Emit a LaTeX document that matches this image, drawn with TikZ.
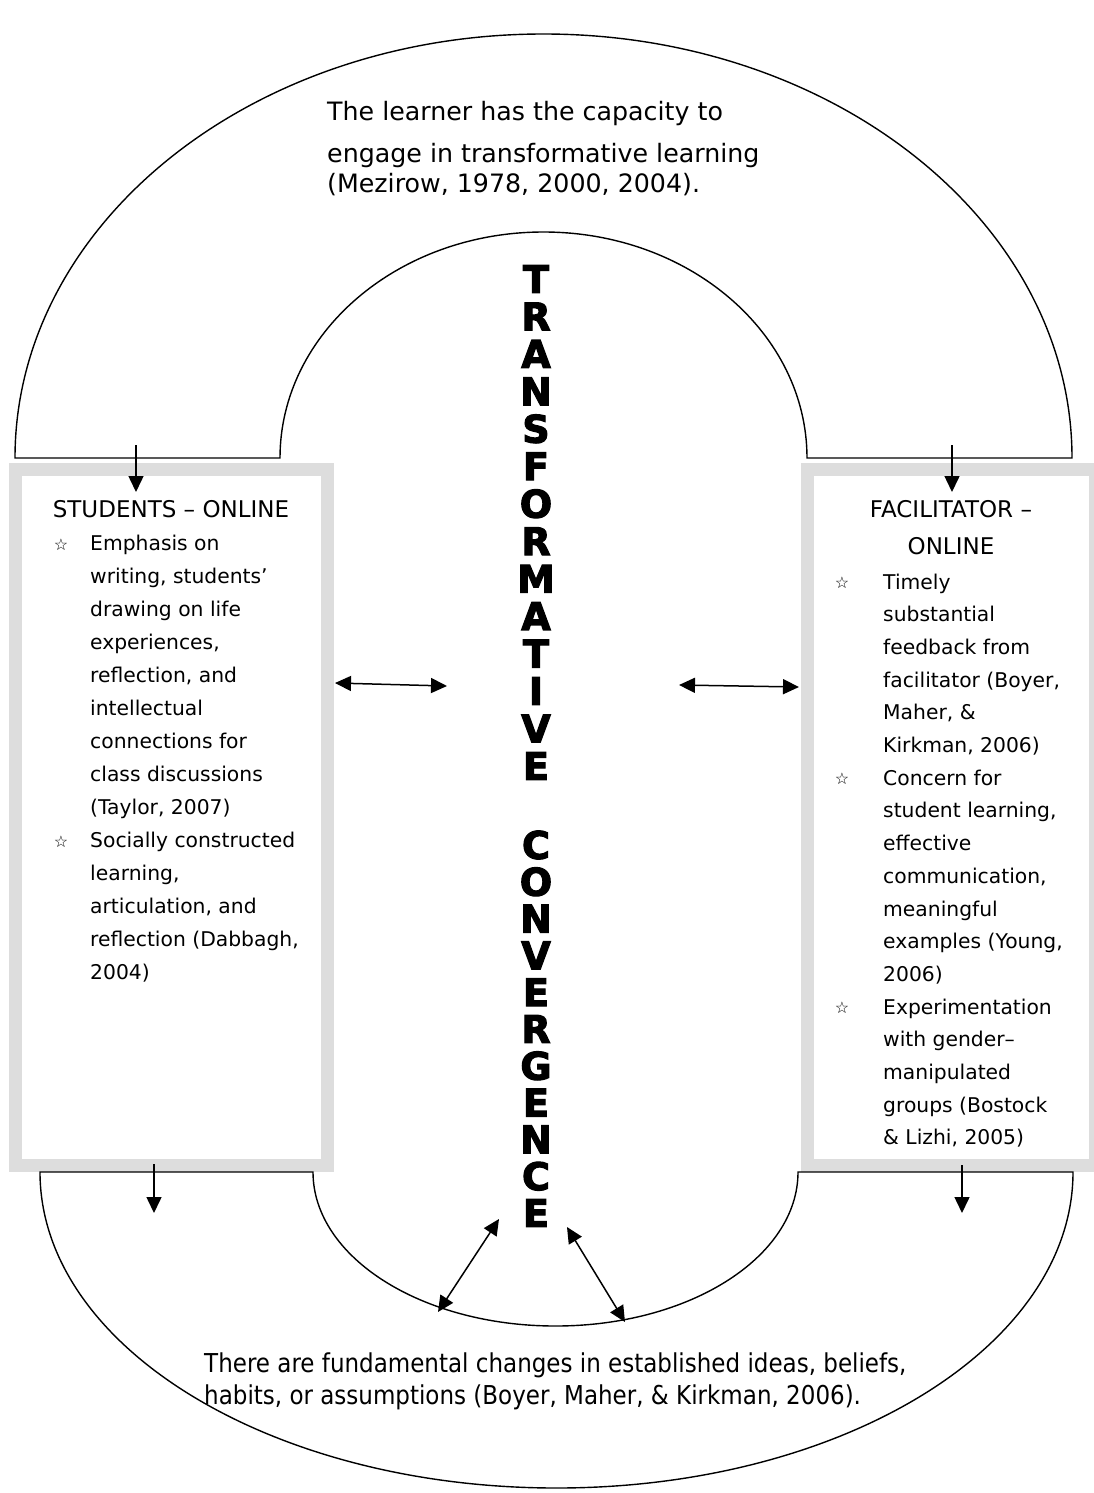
\documentclass[tikz,border=0pt]{standalone}
\usepackage{fontspec}
\usetikzlibrary{arrows.meta}
\setmainfont{DejaVu Sans}
\newfontfamily\bigfont[FakeBold=3]{DejaVu Sans Bold}
\newfontfamily\condfont[FakeStretch=0.885]{DejaVu Sans}
\definecolor{boxgray}{RGB}{221,221,221}
\begin{document}
\begin{tikzpicture}[x=1pt,y=1pt,
  arch/.style={draw=black,line width=1.4pt},
  panel/.style={draw=boxgray,line width=13pt,fill=white,inner sep=0,outer sep=0},
  conn/.style={line width=1.5pt,-{Triangle[length=16pt,width=15pt]}},
  dconn/.style={line width=1.5pt,{Triangle[length=16pt,width=15pt]}-{Triangle[length=16pt,width=15pt]}},
  body/.style={anchor=base west,inner sep=0,font=\fontsize{20.3}{24}\selectfont},
  head/.style={anchor=base,inner sep=0,font=\fontsize{23}{27}\selectfont},
  big/.style={anchor=base west,inner sep=0,font=\fontsize{25.3}{30}\selectfont},
  cond/.style={anchor=base west,inner sep=0,font=\condfont\fontsize{26}{30}\selectfont},
  bullet/.style={inner sep=0,font=\fontsize{16}{18}\selectfont},
  letter/.style={inner sep=0,font=\bigfont\fontsize{38}{40}\selectfont}]
\useasboundingbox (0,0) rectangle (1094,-1493);
\fill[white] (0,0) rectangle (1094,-1493);

% panels
\node[panel,minimum width=312pt,minimum height=696pt] (stud) at (171.5,-817.5) {};
\node[panel,minimum width=288pt,minimum height=696pt] (fac) at (951.5,-817.5) {};

% top arch
\draw[arch] (15,-458) arc[start angle=180,end angle=0,x radius=528.5pt,y radius=424pt]
  -- (807,-458) arc[start angle=0,end angle=180,x radius=263.5pt,y radius=226pt] -- cycle;
% bottom arch
\draw[arch] (40,-1172) arc[start angle=180,end angle=360,x radius=516.5pt,y radius=316pt]
  -- (798,-1172) arc[start angle=0,end angle=-180,x radius=242.5pt,y radius=154pt] -- cycle;

% top text
\node[big] (t1) at (327,-121) {The learner has the capacity to};
\node[big] (t2) at (327,-162) {engage in transformative learning};
\node[big] (t3) at (327,-192) {(Mezirow, 1978, 2000, 2004).};

% bottom text
\node[cond] (b1) at (204,-1372) {There are fundamental changes in established ideas, beliefs,};
\node[cond] (b2) at (204,-1404) {habits, or assumptions (Boyer, Maher, \& Kirkman, 2006).};

% headers
\node[head] (sh) at (171,-517) {STUDENTS – ONLINE};
\node[head] (fh1) at (951,-517) {FACILITATOR –};
\node[head] (fh2) at (951,-554) {ONLINE};

% left body
\foreach \t [count=\i from 0] in {{Emphasis on},{writing, students’},{drawing on life},{experiences,},{reflection, and},{intellectual},{connections for},{class discussions},{(Taylor, 2007)},{Socially constructed},{learning,},{articulation, and},{reflection (Dabbagh,},{2004)}}
  \node[body] (sl\i) at (90,{-550-33*\i}) {\t};

% right body
\foreach \t [count=\i from 0] in {{Timely},{substantial},{feedback from},{facilitator (Boyer,},{Maher, \&},{Kirkman, 2006)},{Concern for},{student learning,},{effective},{communication,},{meaningful},{examples (Young,},{2006)},{Experimentation},{with gender–},{manipulated},{groups (Bostock},{\& Lizhi, 2005)}}
  \node[body] (fl\i) at (883,{-589-32.7*\i}) {\t};

% bullets
\node[bullet] (s1) at (61,-545) {☆};
\node[bullet] (s2) at (61,-842) {☆};
\node[bullet] (f1) at (842,-583) {☆};
\node[bullet] (f2) at (842,-779) {☆};
\node[bullet] (f3) at (842,-1008) {☆};

% vertical words
\foreach \l [count=\i from 0] in {T,R,A,N,S,F,O,R,M,A,T,I,V,E}
  \node[letter] (ta\i) at (536,{-279-37.46*\i}) {\l};
\foreach \l [count=\i from 0] in {C,O,N,V,E,R,G,E,N,C,E}
  \node[letter] (cv\i) at (536,{-845-36.8*\i}) {\l};

% connector endpoints
\coordinate (tl1) at (136,-445); \coordinate (tl2) at (136,-492);
\coordinate (tr1) at (952,-445); \coordinate (tr2) at (952,-492);
\coordinate (bl1) at (154,-1164); \coordinate (bl2) at (154,-1213);
\coordinate (br1) at (962,-1165); \coordinate (br2) at (962,-1213);
\coordinate (hl1) at (335,-683); \coordinate (hl2) at (447,-686);
\coordinate (hr1) at (679,-685); \coordinate (hr2) at (799,-687);
\coordinate (dl1) at (438,-1312); \coordinate (dl2) at (499,-1219);
\coordinate (dr1) at (567,-1227); \coordinate (dr2) at (625,-1322);

\draw[conn] (tl1) -- (tl2);
\draw[conn] (tr1) -- (tr2);
\draw[conn] (bl1) -- (bl2);
\draw[conn] (br1) -- (br2);
\draw[dconn] (hl1) -- (hl2);
\draw[dconn] (hr1) -- (hr2);
\draw[dconn] (dl1) -- (dl2);
\draw[dconn] (dr1) -- (dr2);
\end{tikzpicture}
\end{document}
